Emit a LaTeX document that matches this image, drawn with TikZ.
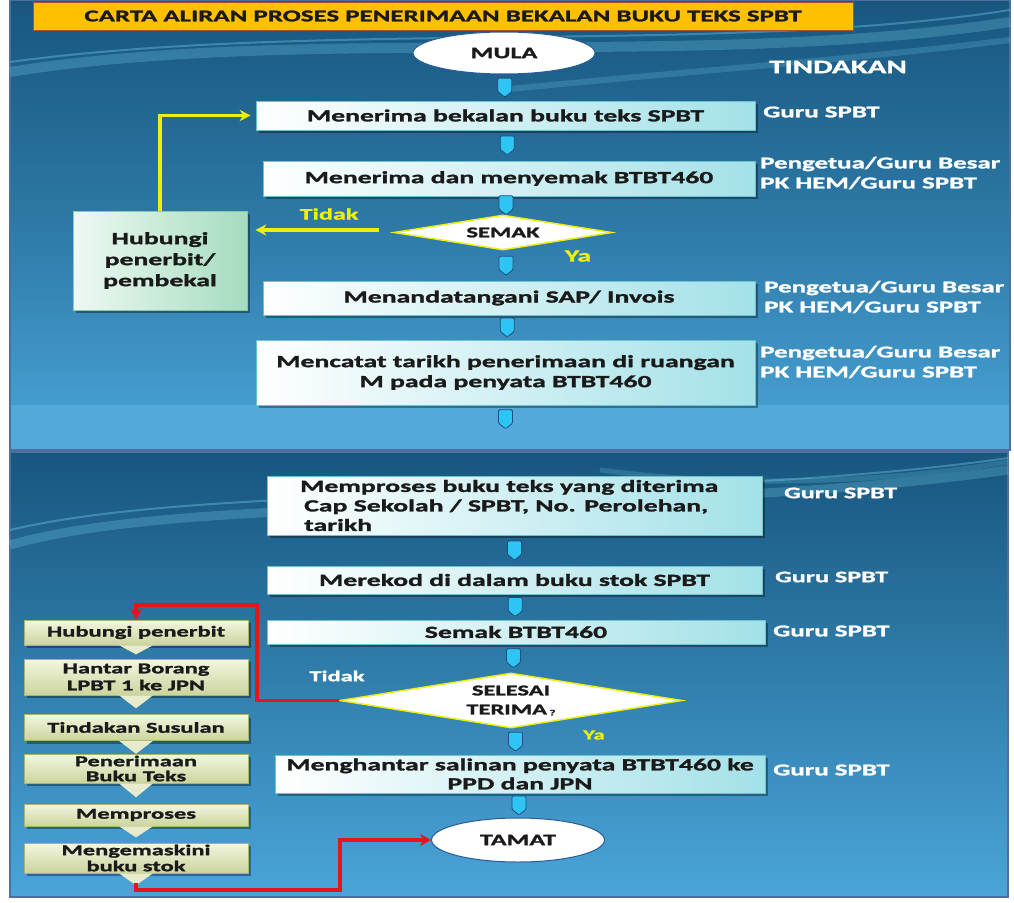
\documentclass[tikz,border=0pt]{standalone}
\usepackage{fontspec}
\setmainfont{Carlito}
\newfontfamily\bx{Carlito}[UprightFont={Carlito Bold},BoldFont={Carlito Bold},FakeStretch=1.63,FakeBold=1.6]
\usetikzlibrary{shapes.geometric,shadows,calc,arrows.meta}
\definecolor{pantop}{HTML}{17567F}
\definecolor{panbot}{HTML}{4AA5D8}
\definecolor{panedge}{HTML}{4E6E9E}
\definecolor{arrcyan}{HTML}{2EC4F4}
\definecolor{arrdark}{HTML}{1D4F7C}
\definecolor{boxright}{HTML}{A3E1E8}
\definecolor{boxedge}{HTML}{6CC3CC}
\definecolor{txt}{HTML}{1A1A1A}
\definecolor{ylw}{HTML}{EEEE10}
\definecolor{redl}{HTML}{E8141C}
\definecolor{olivetop}{HTML}{F4F6E2}
\definecolor{olivebot}{HTML}{CBD49C}
\definecolor{oliveedge}{HTML}{A9B56A}
\definecolor{greenl}{HTML}{EEF9F2}
\definecolor{greenr}{HTML}{A5DCBF}
\definecolor{greenedge}{HTML}{88C9A6}
\definecolor{titlebg}{HTML}{FFC000}
\definecolor{titleedge}{HTML}{B0503C}
\definecolor{ovaledge}{HTML}{2A5A9A}
\definecolor{swoosh}{HTML}{7FD8F0}
\begin{document}
\begin{tikzpicture}[x=1pt,y=-1pt,
  shad/.style={drop shadow={shadow xshift=3pt,shadow yshift=-3pt,opacity=0.35,fill=black}},
  box/.style={rectangle,draw=boxedge,line width=0.6pt,left color=white,right color=boxright,shad,
    font=\fontsize{17}{20}\bx,text=txt,inner sep=2pt,align=center},
  oval/.style={ellipse,draw=ovaledge,line width=1pt,fill=white,inner sep=0pt,
    font=\fontsize{16}{18}\bx,text=txt},
  dec/.style={diamond,draw=ylw,line width=1.5pt,fill=white,inner sep=0pt,
    font=\fontsize{15}{19}\bx,text=txt,align=center},
  role/.style={text=white,font=\fontsize{16.5}{20}\bx,anchor=west,align=left,inner sep=0pt},
  lbox/.style={rectangle,draw=oliveedge,line width=0.6pt,top color=olivetop,bottom color=olivebot,shad,
    minimum width=224pt,font=\fontsize{15}{17}\bx,text=txt,align=center,inner sep=1pt},
  chev/.style={fill=olivetop!70!olivebot,draw=none},
  yline/.style={draw=ylw,line width=3.5pt,-{Stealth[length=11pt,width=11pt]}},
  rline/.style={draw=redl,line width=3.5pt,-{Stealth[length=11pt,width=12pt]}},
  darr/.pic={\draw[fill=arrcyan,draw=arrdark,line width=0.8pt,rounded corners=1.2pt]
     (-7,-9.5) -- (7,-9.5) -- (7,4) -- (0,9.5) -- (-7,4) -- cycle;}
]
\useasboundingbox (0,0) rectangle (1014,902);
\fill[white] (0,0) rectangle (1014,902);
% panels
\shade[top color=pantop,bottom color=panbot,middle color=pantop!55!panbot] (10,0) rectangle (1010,450);
\fill[panbot!95!white] (10,405) rectangle (1010,450);
\draw[panedge,line width=1.2pt] (10,0) rectangle (1010,450);
\shade[top color=pantop,bottom color=panbot,middle color=pantop!50!panbot] (10,452) rectangle (1008,897);
\draw[panedge,line width=1.2pt] (10,452) rectangle (1008,897);
% swooshes
\draw[swoosh,opacity=0.25,line width=10pt] (10,72) .. controls (300,25) and (700,70) .. (1010,22);
\draw[swoosh,opacity=0.35,line width=2pt] (10,62) .. controls (320,20) and (720,55) .. (1010,10);
\draw[swoosh,opacity=0.2,line width=6pt] (500,90) .. controls (700,70) and (850,60) .. (1010,40);
\draw[swoosh,opacity=0.25,line width=9pt] (10,545) .. controls (200,490) and (650,520) .. (1008,470);
\draw[swoosh,opacity=0.35,line width=2pt] (10,530) .. controls (220,480) and (680,505) .. (1008,458);
\draw[swoosh,opacity=0.2,line width=5pt] (600,470) .. controls (750,490) and (900,480) .. (1008,462);

% title
\node[rectangle,fill=titlebg,draw=titleedge,line width=0.8pt,minimum width=820pt,minimum height=28pt,
  font=\fontsize{16.5}{20}\bx,text=txt] (title) at (443,16) {CARTA ALIRAN PROSES PENERIMAAN BEKALAN BUKU TEKS SPBT};

% top flow
\node[oval,minimum width=182pt,minimum height=42pt] (mula) at (504,53) {MULA};
\node[text=white,font=\fontsize{19}{22}\bx] (tind) at (838,67) {TINDAKAN};
\node[box,minimum width=499pt,minimum height=29pt] (b1) at (505.5,115.5) {Menerima bekalan buku teks SPBT};
\node[box,minimum width=492pt,minimum height=35pt] (b2) at (509,178.5) {Menerima dan menyemak BTBT460};
\node[dec,minimum width=218pt,minimum height=35pt,aspect=6] (d1) at (503,232.5) {SEMAK};
\node[box,minimum width=492pt,minimum height=34pt] (b3) at (509,298) {Menandatangani SAP/ Invois};
\node[box,minimum width=499pt,minimum height=65pt] (b4) at (505.5,372.5) {Mencatat tarikh penerimaan di ruangan\\M pada penyata BTBT460};
\node[rectangle,draw=greenedge,line width=0.6pt,left color=greenl,right color=greenr,shad,
  minimum width=174pt,minimum height=99pt,font=\fontsize{17}{21}\bx,text=txt,align=center] (hub) at (160,260.5) {Hubungi\\penerbit/\\pembekal};

\node[role] (r1) at (763,112) {Guru SPBT};
\node[role] (r2) at (760,173) {Pengetua/Guru Besar\\PK HEM/Guru SPBT};
\node[role] (r3) at (764,297) {Pengetua/Guru Besar\\PK HEM/Guru SPBT};
\node[role] (r4) at (760,362) {Pengetua/Guru Besar\\PK HEM/Guru SPBT};
\node[text=ylw,font=\fontsize{16}{18}\bx] (tidak1) at (329,214) {Tidak};
\node[text=ylw,font=\fontsize{17}{18}\bx] (ya1) at (578,256) {Ya};

\pic at ($(mula.south)!0.5!(b1.north)$) {darr};
\pic at ($(b1.south)!0.5!(b2.north)$) {darr};
\pic at ($(b2.south)!0.5!(d1.north)$) {darr};
\pic at ($(d1.south)!0.5!(b3.north)$) {darr};
\pic at ($(b3.south)!0.5!(b4.north)$) {darr};
\pic at ($(b4.south)+(0,14)$) {darr};

\draw[yline] ($(d1.west)+(-14,-2.5)$) -- ($(hub.east |- d1.west)+(8,-2.5)$);
\draw[yline] (hub.north) |- ($(b1.west)+(-5,0)$);

% bottom flow
\node[box,minimum width=495pt,minimum height=59pt] (b5) at (514.5,505.5) {};
\node[font=\fontsize{17}{19.5}\bx,text=txt,align=left,anchor=west,inner sep=0pt] (b5t) at (300,505.5)
  {Memproses buku teks yang diterima\\\hspace*{4pt}Cap Sekolah / SPBT, No. Perolehan,\\\hspace*{4pt}tarikh};
\node[box,minimum width=495pt,minimum height=28pt,font=\fontsize{17}{19}\bx] (b6) at (514.5,580) {Merekod di dalam buku stok SPBT};
\node[box,minimum width=498pt,minimum height=24pt] (b7) at (516,632) {Semak BTBT460};
\node[dec,minimum width=342pt,minimum height=55pt,aspect=6.2] (d2) at (511,700.5) {SELESAI\\TERIMA\,\raisebox{-1pt}{\fontsize{8}{8}\selectfont ?}};
\node[box,minimum width=490pt,minimum height=38pt,font=\fontsize{17}{19}\bx] (b8) at (520,774) {Menghantar salinan penyata BTBT460 ke\\PPD dan JPN};
\node[oval,minimum width=173pt,minimum height=44pt] (tamat) at (518,840) {TAMAT};

\node[role,font=\fontsize{16}{19}\bx] (r5) at (784,493) {Guru SPBT};
\node[role,font=\fontsize{16}{19}\bx] (r6) at (775,577) {Guru SPBT};
\node[role] (r7) at (773,631) {Guru SPBT};
\node[role] (r8) at (773,770) {Guru SPBT};
\node[text=white,font=\fontsize{15}{18}\bx] (tidak2) at (337,676) {Tidak};
\node[text=ylw,font=\fontsize{14}{16}\bx] (ya2) at (594,735) {Ya};

\pic at ($(b5.south)!0.5!(b6.north)$) {darr};
\pic at ($(b6.south)!0.5!(b7.north)$) {darr};
\pic at ($(b7.south)!0.5!(d2.north)$) {darr};
\pic at ($(d2.south)!0.5!(b8.north)$) {darr};
\pic at ($(b8.south)!0.5!(tamat.north)$) {darr};

% left chain
\node[lbox,minimum height=25pt] (L1) at (136,632.5) {Hubungi penerbit};
\node[lbox,minimum height=36pt] (L2) at (136,677) {Hantar Borang\\LPBT 1 ke JPN};
\node[lbox,minimum height=26pt] (L3) at (136,727.5) {Tindakan Susulan};
\node[lbox,minimum height=29pt,font=\fontsize{15}{15}\bx] (L4) at (136,768.5) {Penerimaan\\Buku Teks};
\node[lbox,minimum height=22pt] (L5) at (136,815) {Memproses};
\node[lbox,minimum height=30pt,font=\fontsize{15}{16}\bx] (L6) at (136,858) {Mengemaskini\\buku stok};
\foreach \n/\h in {L1/9,L2/13,L3/13,L4/14,L5/11,L6/12}{
  \fill[chev] ($(\n.south)+(-17,0)$) -- ($(\n.south)+(17,0)$) -- ($(\n.south)+(0,\h)$) -- cycle;
}

\coordinate (rc1) at (257,605);
\coordinate (rc2) at (340,890);
\draw[rline] (d2.west) -| (rc1) -| (L1.north);
\draw[rline] ($(L6.south)+(0,10)$) |- (rc2) |- (tamat.west);
\end{tikzpicture}
\end{document}
